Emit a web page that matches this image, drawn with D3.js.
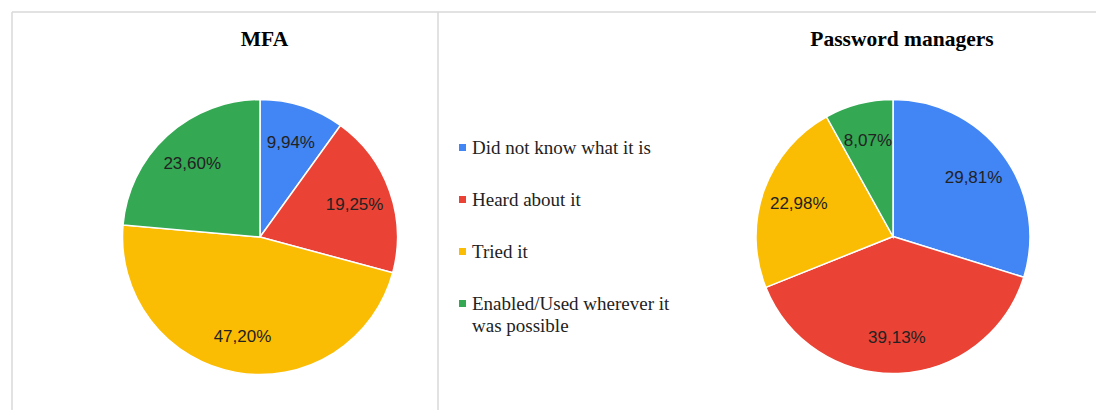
<!DOCTYPE html>
<html>
<head>
<meta charset="utf-8">
<script src="https://cdn.jsdelivr.net/npm/d3@7"></script>
<style>
  html, body { margin: 0; padding: 0; background: #fff; }
  svg { display: block; }
</style>
</head>
<body>
<svg id="chart" width="1096" height="410"></svg>
<script>
// Survey answers, shared by both pies
const categories = [
  "Did not know what it is",
  "Heard about it",
  "Tried it",
  "Enabled/Used wherever it was possible"
];
const legendLines = [
  ["Did not know what it is"],
  ["Heard about it"],
  ["Tried it"],
  ["Enabled/Used wherever it", "was possible"]
];
const colors = ["#4285F4", "#EA4335", "#FBBC04", "#34A853"];

const mfaTitle = "MFA";
const mfaValues = [9.94, 19.25, 47.20, 23.60];

const pmTitle = "Password managers";
const pmValues = [29.81, 39.13, 22.98, 8.07];

const svg = d3.select("#chart");

// Panel frame
const frame = svg.append("g").attr("stroke", "#d9d9d9").attr("stroke-width", 1.5);
frame.append("line").attr("x1", 12).attr("y1", 12).attr("x2", 1096).attr("y2", 12);
frame.append("line").attr("x1", 12).attr("y1", 12).attr("x2", 12).attr("y2", 410);
frame.append("line").attr("x1", 438).attr("y1", 12).attr("x2", 438).attr("y2", 410);

const color = d3.scaleOrdinal().domain(categories).range(colors);
const fmt = v => d3.format(".2f")(v).replace(".", ",") + "%";

function drawPie(values, title, cx, cy, r, titleX) {
  const data = categories.map((c, i) => ({ cat: c, value: values[i] }));
  const pie = d3.pie().sort(null).value(d => d.value);
  const arcs = pie(data);
  const arc = d3.arc().innerRadius(0).outerRadius(r);
  const labelArc = d3.arc().innerRadius(r * 0.73).outerRadius(r * 0.73);

  svg.append("text")
    .attr("x", titleX).attr("y", 46)
    .attr("text-anchor", "middle")
    .attr("font-family", "'Liberation Serif', 'Times New Roman', serif")
    .attr("font-weight", "bold")
    .attr("font-size", "21.5px")
    .attr("fill", "#000")
    .text(title);

  const g = svg.append("g").attr("transform", `translate(${cx},${cy})`);
  g.selectAll("path").data(arcs).join("path")
    .attr("d", arc)
    .attr("fill", d => color(d.data.cat))
    .attr("stroke", "#fff")
    .attr("stroke-width", 1.5);

  g.selectAll("text").data(arcs).join("text")
    .attr("transform", d => `translate(${labelArc.centroid(d)})`)
    .attr("dy", "0.36em")
    .attr("text-anchor", "middle")
    .attr("font-family", "'Liberation Sans', Arial, sans-serif")
    .attr("font-size", "17px")
    .attr("fill", "#222")
    .text(d => fmt(d.data.value));
}

drawPie(mfaValues, mfaTitle, 260, 237, 137.5, 264.5);
drawPie(pmValues, pmTitle, 893, 236.5, 137, 902);

// Legend
const legend = svg.append("g");
legendLines.forEach((lines, i) => {
  const y = 154 + i * 52;
  legend.append("rect")
    .attr("x", 459).attr("y", y - 10)
    .attr("width", 7).attr("height", 7)
    .attr("fill", colors[i]);
  const t = legend.append("text")
    .attr("x", 472).attr("y", y)
    .attr("font-family", "'Liberation Serif', 'Times New Roman', serif")
    .attr("font-size", "19px")
    .attr("fill", "#222");
  lines.forEach((ln, j) => {
    t.append("tspan").attr("x", 472).attr("y", y + j * 21.5).text(ln);
  });
});
</script>
</body>
</html>
